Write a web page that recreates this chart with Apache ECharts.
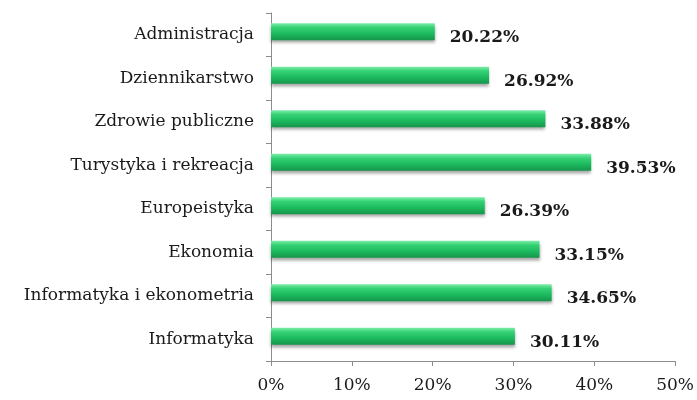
<!DOCTYPE html>
<html>
<head>
<meta charset="utf-8">
<script src="https://cdn.jsdelivr.net/npm/echarts@6/dist/echarts.min.js"></script>
<style>
  html, body { margin: 0; padding: 0; background: #fff; }
  #chart { width: 697px; height: 400px; }
</style>
</head>
<body>
<div id="chart"></div>
<script>
// categories listed top to bottom (axis is inverted)
const categories = [
    'Administracja',
    'Dziennikarstwo',
    'Zdrowie publiczne',
    'Turystyka i rekreacja',
    'Europeistyka',
    'Ekonomia',
    'Informatyka i ekonometria',
    'Informatyka'
]
const shares = [20.22, 26.92, 33.88, 39.53, 26.39, 33.15, 34.65, 30.11]
const xTicks = [0, 10, 20, 30, 40, 50]

const FONT = "Georgia, 'DejaVu Serif', serif"
const AXIS_GREY = '#8c8c8c'
const TEXT = '#1a1a1a'

const xRange = {
    type: 'value',
    min: xTicks[0],
    max: xTicks[xTicks.length - 1],
    interval: xTicks[1] - xTicks[0]
}

const chart = echarts.init(document.getElementById('chart'))

// grid 0 carries the visible axes, grid 1 (nudged up a little) carries the bars
chart.setOption({
    animation: false,
    textStyle: { fontFamily: FONT },
    grid: [
        { left: 271, right: 21, top: 13, bottom: 39 },
        { left: 271, right: 21, top: 10, bottom: 42 }
    ],
    xAxis: [{
        ...xRange,
        gridIndex: 0,
        axisLine: { show: true, lineStyle: { color: AXIS_GREY } },
        axisTick: { show: true, length: 5, lineStyle: { color: AXIS_GREY } },
        splitLine: { show: false },
        axisLabel: {
            margin: 16,
            color: TEXT,
            fontSize: 17,
            fontFamily: FONT,
            formatter: '{value}%'
        }
    }, {
        ...xRange,
        gridIndex: 1,
        show: false,
        splitLine: { show: false }
    }],
    yAxis: [{
        type: 'category',
        gridIndex: 0,
        data: categories,
        inverse: true,
        axisLine: { show: true, lineStyle: { color: AXIS_GREY } },
        axisTick: { show: true, length: 5, lineStyle: { color: AXIS_GREY } },
        axisLabel: {
            margin: 17,
            color: TEXT,
            fontSize: 17,
            fontFamily: FONT
        }
    }, {
        type: 'category',
        gridIndex: 1,
        data: categories,
        inverse: true,
        show: false
    }],
    series: [{
        type: 'bar',
        xAxisIndex: 1,
        yAxisIndex: 1,
        data: shares,
        barWidth: 17,
        itemStyle: {
            color: new echarts.graphic.LinearGradient(0, 0, 0, 1, [
                { offset: 0, color: '#7dedaa' },
                { offset: 0.25, color: '#35d275' },
                { offset: 0.6, color: '#1dbb5f' },
                { offset: 1, color: '#15954b' }
            ]),
            shadowColor: 'rgba(0, 0, 0, 0.35)',
            shadowBlur: 3,
            shadowOffsetY: 3
        },
        label: {
            show: true,
            position: 'right',
            distance: 15,
            offset: [0, 6],
            color: TEXT,
            fontSize: 17,
            fontWeight: 'bold',
            fontFamily: FONT,
            formatter: p => p.value.toFixed(2) + '%'
        }
    }]
})
</script>
</body>
</html>
